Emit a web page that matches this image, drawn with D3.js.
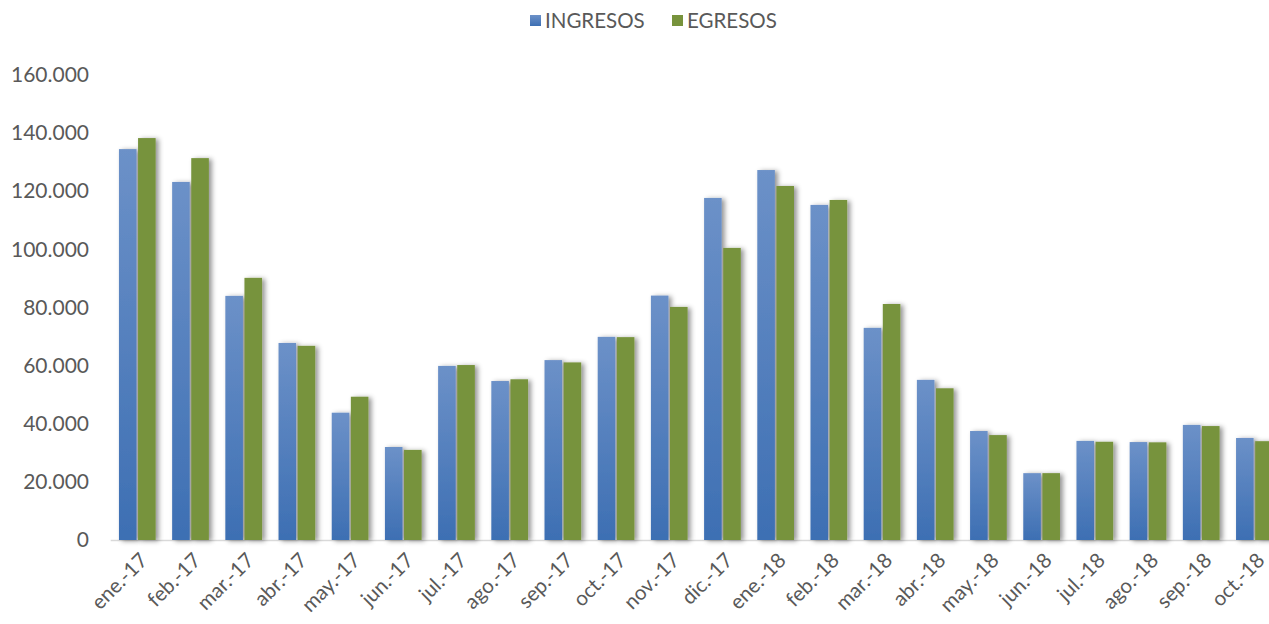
<!DOCTYPE html>
<html><head><meta charset="utf-8">
<script src="https://cdn.jsdelivr.net/npm/d3@7"></script>
<style>html,body{margin:0;padding:0;background:#fff;}svg{display:block;font-family:Lato,"Open Sans",sans-serif;}</style>
</head><body><svg id="c" width="1269" height="624"></svg>
<script>
const categories = ["ene.-17","feb.-17","mar.-17","abr.-17","may.-17","jun.-17","jul.-17","ago.-17","sep.-17","oct.-17","nov.-17","dic.-17","ene.-18","feb.-18","mar.-18","abr.-18","may.-18","jun.-18","jul.-18","ago.-18","sep.-18","oct.-18"];
const ingresos = [134500,123200,84000,67800,43800,32000,59900,54700,61900,69900,84100,117700,127300,115300,73000,55100,37500,23000,34100,33700,39600,35100];
const egresos  = [138300,131400,90200,66800,49300,31000,60200,55300,61100,69800,80200,100500,121800,117000,81200,52200,36100,23000,33800,33600,39200,34000];
const seriesNames = ["INGRESOS","EGRESOS"];
const yTicks = [0,20000,40000,60000,80000,100000,120000,140000,160000];

const svg = d3.select("#c");
const defs = svg.append("defs");
const g1 = defs.append("linearGradient").attr("id","gBlue").attr("x1",0).attr("y1",0).attr("x2",0).attr("y2",1);
g1.append("stop").attr("offset","0%").attr("stop-color","#6c91c8");
g1.append("stop").attr("offset","100%").attr("stop-color","#3d6fb3");
const f = defs.append("filter").attr("id","sh").attr("x","-40%").attr("y","-10%").attr("width","190%").attr("height","120%");
f.append("feDropShadow").attr("dx",3).attr("dy",1).attr("stdDeviation",2.5).attr("flood-color","#000").attr("flood-opacity",0.42);

const x0 = d3.scaleBand().domain(categories).range([110.7, 1281]).paddingInner(0.31).paddingOuter(0.155);
const x1 = d3.scaleBand().domain(seriesNames).range([0, x0.bandwidth()]).paddingInner(0.08);
const y = d3.scaleLinear().domain([0,160000]).range([540,75]);
const colors = {INGRESOS:"url(#gBlue)", EGRESOS:"#77933c"};
const fmt = v => d3.format(",")(v).replace(/,/g,".");

// axis baseline
svg.append("line").attr("x1",110.7).attr("x2",1269).attr("y1",y(0)+0.5).attr("y2",y(0)+0.5).attr("stroke","#d9d9d9").attr("stroke-width",1.5);

// y axis labels
const ya = svg.append("g").attr("transform","translate(89,0)")
  .call(d3.axisLeft(y).tickValues(yTicks).tickFormat(fmt).tickSize(0).tickPadding(0));
ya.select(".domain").remove();
ya.selectAll("text").attr("font-size",21).attr("fill","#595959").attr("font-family","Lato,'Open Sans',sans-serif");

// bars
const groups = svg.append("g").selectAll("g").data(categories).join("g")
  .attr("transform", d => `translate(${x0(d)},0)`);
groups.selectAll("rect").data((d,i)=>[{s:"INGRESOS",v:ingresos[i]},{s:"EGRESOS",v:egresos[i]}]).join("rect")
  .attr("x", d=>x1(d.s)).attr("width", x1.bandwidth())
  .attr("y", d=>y(d.v)).attr("height", d=>y(0)-y(d.v))
  .attr("fill", d=>colors[d.s]).attr("filter","url(#sh)");

// x labels
const xa = svg.append("g").attr("transform",`translate(0,${y(0)+13})`)
  .call(d3.axisBottom(x0).tickSize(0).tickPadding(0));
xa.select(".domain").remove();
xa.selectAll("text").attr("font-size",20.5).attr("fill","#595959").attr("font-family","Lato,'Open Sans',sans-serif")
  .attr("text-anchor","end").attr("dy","0.7em").attr("dx","0.1em")
  .attr("transform","rotate(-45)");

// legend
const leg = svg.append("g");
const legItems = [{n:"INGRESOS",x:530,c:"url(#gBlue)"},{n:"EGRESOS",x:672,c:"#77933c"}];
legItems.forEach(it=>{
  leg.append("rect").attr("x",it.x).attr("y",15).attr("width",11).attr("height",11).attr("fill",it.c);
  leg.append("text").attr("x",it.x+15).attr("y",21).attr("dy","0.35em").attr("font-size",20.5).attr("fill","#595959").text(it.n);
});
</script></body></html>
